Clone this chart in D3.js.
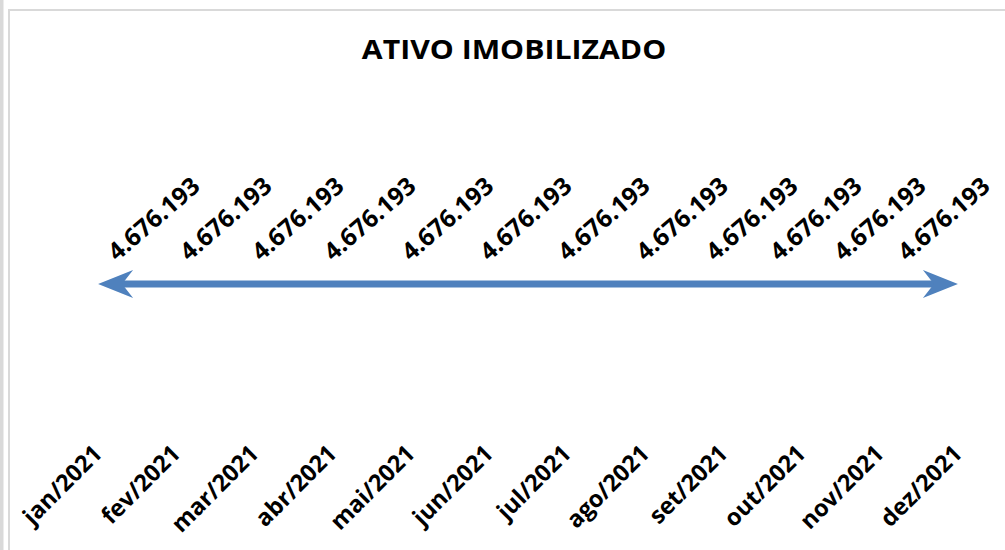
<!DOCTYPE html>
<html>
<head>
<meta charset="utf-8">
<script src="https://cdn.jsdelivr.net/npm/d3@7"></script>
<style>
  html, body { margin: 0; padding: 0; background: #ffffff; }
  svg { display: block; }
</style>
</head>
<body>
<svg id="chart" width="1005" height="550"></svg>
<script>
// ---- data ----
const title = "ATIVO IMOBILIZADO";
const categories = ["jan/2021","fev/2021","mar/2021","abr/2021","mai/2021","jun/2021",
                    "jul/2021","ago/2021","set/2021","out/2021","nov/2021","dez/2021"];
const values = [4676193,4676193,4676193,4676193,4676193,4676193,
                4676193,4676193,4676193,4676193,4676193,4676193];
const yDomain = [0, 10000000];

// ---- layout ----
const W = 1005, H = 550;
const plot = { left: 59, right: 997, top: 95, bottom: 450 };
const lineColor = "#4F81BD";
const fontFamily = "'Open Sans', 'Noto Sans', sans-serif";

const svg = d3.select("#chart");
svg.append("rect").attr("width", W).attr("height", H).attr("fill", "#ffffff");
// frames
svg.append("rect").attr("x", 0).attr("y", 0).attr("width", 3.5).attr("height", H).attr("fill", "#d9d9d9");
svg.append("rect").attr("x", 9).attr("y", 10).attr("width", W + 20).attr("height", H + 20)
   .attr("fill", "none").attr("stroke", "#d9d9d9").attr("stroke-width", 2);

const x = d3.scalePoint().domain(categories).range([plot.left, plot.right]).padding(0.5);
const y = d3.scaleLinear().domain(yDomain).range([plot.bottom, plot.top]);

const locale = d3.formatLocale({ decimal: ",", thousands: ".", grouping: [3], currency: ["R$", ""] });
const fmt = locale.format(",d");

// title
svg.append("text")
  .attr("transform", `translate(514,59) scale(1.14,1)`)
  .attr("text-anchor", "middle")
  .attr("font-family", fontFamily).attr("font-weight", 700).attr("font-size", 26.5)
  .attr("fill", "#000").text(title);

// line (ends trimmed to the arrow notches)
const arrowLen = 35, arrowNotch = 24, arrowHalf = 14;
const first = categories[0], last = categories[categories.length - 1];
svg.append("clipPath").attr("id", "lineClip").append("rect")
  .attr("x", x(first) + arrowNotch).attr("y", 0)
  .attr("width", x(last) - x(first) - 2 * arrowNotch).attr("height", H);

const data = categories.map((c, i) => ({ c, v: values[i] }));
const lineGen = d3.line().x(d => x(d.c)).y(d => y(d.v));
svg.append("path").datum(data)
  .attr("d", lineGen).attr("fill", "none")
  .attr("stroke", lineColor).attr("stroke-width", 7)
  .attr("clip-path", "url(#lineClip)");

// arrowheads (stealth style) at both ends
const arrowPath = `M0,0 L${-arrowLen},${-arrowHalf} L${-arrowNotch},0 L${-arrowLen},${arrowHalf} Z`;
svg.append("path").attr("d", arrowPath).attr("fill", lineColor)
  .attr("transform", `translate(${x(last)},${y(values[values.length - 1])})`);
svg.append("path").attr("d", arrowPath).attr("fill", lineColor)
  .attr("transform", `translate(${x(first)},${y(values[0])}) rotate(180)`);

// data labels: start near each point, pushed apart and kept inside the chart
const labelLeftBound = 117, labelRightBound = 907, gapL = 72, gapR = 64;
const starts = data.map(d => x(d.c));
starts[0] = Math.max(starts[0], labelLeftBound);
for (let i = 1; i < starts.length; i++) starts[i] = Math.max(starts[i], starts[i - 1] + gapL);
const n = starts.length;
starts[n - 1] = Math.min(x(last), labelRightBound);
for (let i = n - 2; i >= 0; i--) starts[i] = Math.min(starts[i], starts[i + 1] - gapR);

svg.append("g").selectAll("text").data(data).join("text")
  .attr("transform", (d, i) => `translate(${starts[i]},${y(d.v) - 22}) rotate(-41)`)
  .attr("font-family", fontFamily).attr("font-weight", 700).attr("font-size", 24.5)
  .attr("fill", "#000").text(d => fmt(d.v));

// x axis labels
const xAxis = d3.axisBottom(x).tickSize(0).tickPadding(0);
const gx = svg.append("g").attr("transform", `translate(0,455)`).call(xAxis);
gx.select(".domain").remove();
gx.selectAll("text")
  .attr("x", 0).attr("y", 0).attr("dy", 0)
  .attr("transform", "translate(5,0) rotate(-45)")
  .attr("text-anchor", "end")
  .attr("font-family", fontFamily).attr("font-weight", 700).attr("font-size", 23.5)
  .attr("fill", "#000");
</script>
</body>
</html>
